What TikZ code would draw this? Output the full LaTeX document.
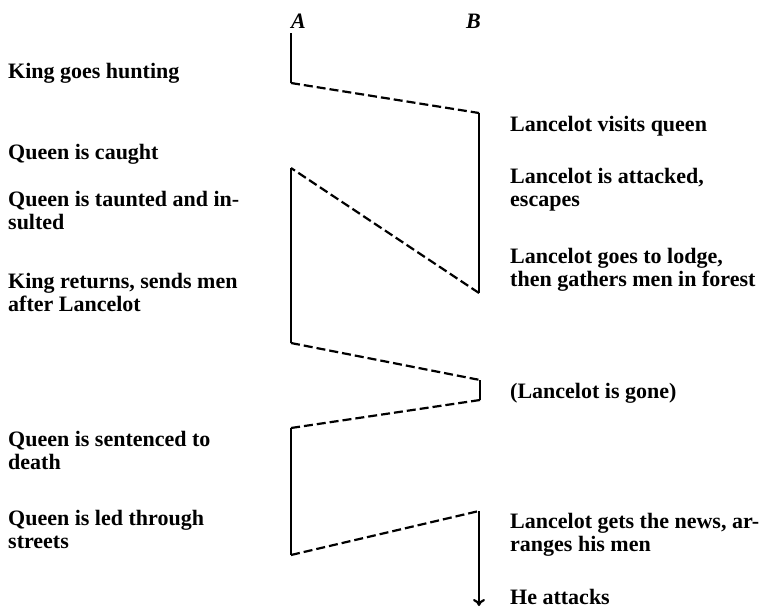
\documentclass[tikz,border=0pt]{standalone}
\usepackage{fontspec}
\setmainfont{Liberation Serif}
\usetikzlibrary{arrows.meta}
\begin{document}
\begin{tikzpicture}[x=1pt,y=-1pt,
  lbl/.style={anchor=base west,inner sep=0pt,font=\fontsize{22}{23}\selectfont\bfseries},
  hdr/.style={inner sep=0pt,font=\fontsize{22}{23}\selectfont\bfseries\itshape},
  solidline/.style={line width=2.2pt,line cap=butt},
  dashline/.style={line width=2.2pt,dash pattern=on 9pt off 4pt}]
\useasboundingbox (0,0) rectangle (764,611);
% column headers
\node[hdr,anchor=base west] (hA) at (291,28) {A};
\node[hdr,anchor=base east] (hB) at (481,28) {B};
% timeline corners
\coordinate (A0) at (291,33);
\coordinate (A1) at (291,83);
\coordinate (B1) at (479,113);
\coordinate (B2) at (479,293);
\coordinate (A2) at (291,168);
\coordinate (A3) at (291,343);
\coordinate (B3) at (480,380);
\coordinate (B4) at (480,400);
\coordinate (A4) at (291,428);
\coordinate (A5) at (291,555);
\coordinate (B5) at (479,511);
\coordinate (B6) at (479,606);
\draw[solidline] (A0) -- (A1);
\draw[dashline] (A1) -- (B1);
\draw[solidline] (B1) -- (B2);
\draw[dashline] (B2) -- (A2);
\draw[solidline] (A2) -- (A3);
\draw[dashline] (A3) -- (B3);
\draw[solidline] (B3) -- (B4);
\draw[dashline] (B4) -- (A4);
\draw[solidline] (A4) -- (A5);
\draw[dashline] (A5) -- (B5);
\draw[solidline,-{To[length=7pt,width=12pt]}] (B5) -- (B6);
% left column
\node[lbl] (l1) at (8,78) {King goes hunting};
\node[lbl] (l2) at (8,159) {Queen is caught};
\node[lbl] (l3a) at (8,206) {Queen is taunted and in-};
\node[lbl] (l3b) at (8,229) {sulted};
\node[lbl] (l4a) at (8,288) {King returns, sends men};
\node[lbl] (l4b) at (8,311) {after Lancelot};
\node[lbl] (l5a) at (8,446) {Queen is sentenced to};
\node[lbl] (l5b) at (8,469) {death};
\node[lbl] (l6a) at (8,525) {Queen is led through};
\node[lbl] (l6b) at (8,548) {streets};
% right column
\node[lbl] (r1) at (510,131) {Lancelot visits queen};
\node[lbl] (r2a) at (510,183) {Lancelot is attacked,};
\node[lbl] (r2b) at (510,206) {escapes};
\node[lbl] (r3a) at (510,263) {Lancelot goes to lodge,};
\node[lbl] (r3b) at (510,286) {then gathers men in forest};
\node[lbl] (r4) at (510,398) {(Lancelot is gone)};
\node[lbl] (r5a) at (510,528) {Lancelot gets the news, ar-};
\node[lbl] (r5b) at (510,551) {ranges his men};
\node[lbl] (r6) at (510,604) {He attacks};
\end{tikzpicture}
\end{document}
